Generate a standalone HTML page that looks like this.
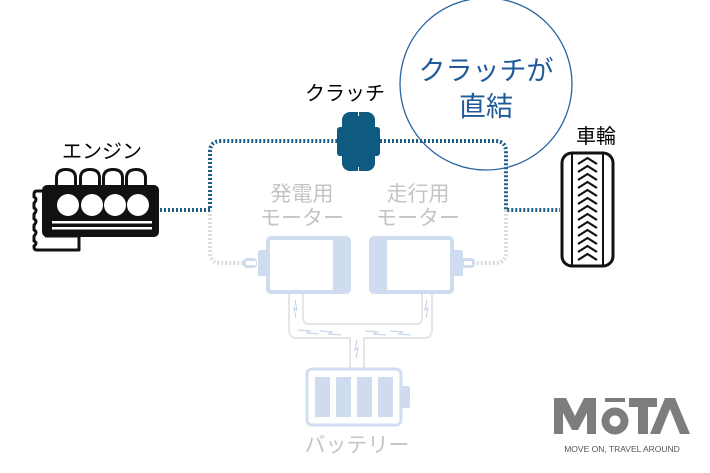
<!DOCTYPE html>
<html><head><meta charset="utf-8"><style>
html,body{margin:0;padding:0;background:#fff;}
svg{display:block;}
text{font-family:"Liberation Sans","Noto Sans CJK JP",sans-serif;}
</style></head><body>
<svg width="710" height="473" viewBox="0 0 710 473" xmlns="http://www.w3.org/2000/svg">
<path d="M210 210 V252 Q210 263 221 263 H243" fill="none" stroke="#dcdcdc" stroke-width="4" stroke-dasharray="2 2"/>
<path d="M506 210 V252 Q506 263 495 263 H476" fill="none" stroke="#dcdcdc" stroke-width="4" stroke-dasharray="2 2"/>
<g fill="none" stroke="#1d5f86" stroke-width="4" stroke-dasharray="2 2">
<path d="M160 210 H210 V152 Q210 141 221 141 H338"/>
<path d="M380 141 H495 Q506 141 506 152 V210 H560"/>
</g>
<circle cx="486" cy="84" r="86" fill="none" stroke="#2a64a0" stroke-width="1.3"/>
<text x="486" y="80" font-size="27" fill="#1f5a9a" text-anchor="middle">クラッチが</text>
<text x="486" y="116" font-size="27" fill="#1f5a9a" text-anchor="middle">直結</text>
<text x="345" y="100" font-size="20" fill="#000" text-anchor="middle">クラッチ</text>
<rect x="337" y="127" width="43" height="29" rx="3" fill="#0f5a80"/>
<rect x="342" y="112" width="33" height="59" rx="8" fill="#0f5a80"/>
<line x1="358.5" y1="112" x2="358.5" y2="116" stroke="#fff" stroke-width="1"/>
<line x1="358.5" y1="167" x2="358.5" y2="171" stroke="#fff" stroke-width="1"/>
<!-- engine -->
<text x="102" y="158" font-size="20" fill="#000" text-anchor="middle">エンジン</text>
<path d="M46 191 H37 Q34 191 34 194 V197 Q38 199 34 203 V208 Q38 210 34 214 V219 Q38 221 34 225 V230 Q38 232 34 236 V241 Q38 243 34 246 V247 Q34 250 37 250 H79 V236 H46 Z" fill="#fff" stroke="#111" stroke-width="3" stroke-linejoin="round"/>
<g fill="#111">
<rect x="42" y="185" width="117" height="52" rx="5"/>
<path d="M55 186 V178 Q55 168 66 168 Q77 168 77 178 V186 Z"/>
<path d="M79 186 V178 Q79 168 90 168 Q101 168 101 178 V186 Z"/>
<path d="M102 186 V178 Q102 168 113 168 Q124 168 124 178 V186 Z"/>
<path d="M125 186 V178 Q125 168 136 168 Q147 168 147 178 V186 Z"/>
</g>
<g fill="#fff">
<path d="M58 185 V178 Q58 171 66 171 Q74 171 74 178 V185 Z"/>
<path d="M82 185 V178 Q82 171 90 171 Q98 171 98 178 V185 Z"/>
<path d="M105 185 V178 Q105 171 113 171 Q121 171 121 178 V185 Z"/>
<path d="M128 185 V178 Q128 171 136 171 Q144 171 144 178 V185 Z"/>
<circle cx="68" cy="205" r="11"/><circle cx="92" cy="205" r="11"/><circle cx="115" cy="205" r="11"/><circle cx="138" cy="205" r="11"/>
<rect x="52" y="221" width="100" height="2.5"/><rect x="52" y="227" width="100" height="2.5"/>
</g>
<!-- wheel -->
<text x="596" y="143" font-size="20" fill="#000" text-anchor="middle">車輪</text>
<rect x="562" y="153" width="51" height="113" rx="10" fill="#fff" stroke="#111" stroke-width="3"/>
<line x1="572" y1="154" x2="572" y2="265" stroke="#111" stroke-width="2"/>
<line x1="603" y1="154" x2="603" y2="265" stroke="#111" stroke-width="2"/>
<g fill="none" stroke="#111" stroke-width="2.2">
<path d="M578 164 L587.5 158 L597 164"/><path d="M578 172 L587.5 166 L597 172"/><path d="M578 180 L587.5 174 L597 180"/><path d="M578 188 L587.5 182 L597 188"/><path d="M578 196 L587.5 190 L597 196"/><path d="M578 204 L587.5 198 L597 204"/><path d="M578 212 L587.5 206 L597 212"/><path d="M578 220 L587.5 214 L597 220"/><path d="M578 228 L587.5 222 L597 228"/><path d="M578 236 L587.5 230 L597 236"/><path d="M578 244 L587.5 238 L597 244"/><path d="M578 252 L587.5 246 L597 252"/><path d="M578 260 L587.5 254 L597 260"/>
</g>
<g fill="#c4c4c4" font-size="21" text-anchor="middle">
<text x="302" y="201">発電用</text><text x="302" y="225">モーター</text>
<text x="418" y="201">走行用</text><text x="418" y="225">モーター</text>
</g>
<g fill="#cfdcef">
<rect x="243" y="258" width="14" height="10" rx="4"/>
<rect x="258" y="250" width="10" height="26" rx="2"/>
<rect x="266" y="236" width="85" height="58" rx="5"/>
<rect x="461" y="258" width="14" height="10" rx="4"/>
<rect x="453" y="250" width="10" height="26" rx="2"/>
<rect x="369" y="236" width="85" height="58" rx="5"/>
</g>
<rect x="270" y="240" width="63" height="50" rx="2" fill="#fff"/>
<rect x="387" y="240" width="63" height="50" rx="2" fill="#fff"/>
<rect x="246" y="261" width="10" height="4" fill="#fff"/>
<rect x="464" y="261" width="8" height="4" fill="#fff"/>
<g fill="none" stroke="#e6e6e6" stroke-width="2">
<path d="M289 294 V330 Q289 338 297 338 H350 V369"/>
<path d="M303 294 V318 Q303 324 309 324 H416 Q422 324 422 318 V294"/>
<path d="M432 294 V330 Q432 338 424 338 H364 V369"/>
</g>
<g fill="none" stroke="#c7d6ee" stroke-width="1.2">
<path d="M295 300 l2 10 -3 -2 2 10"/><path d="M298 330 l12 1 -3 2 12 1"/><path d="M320 331 l12 1 -3 2 12 1"/><path d="M365 331 l12 1 -3 2 12 1"/><path d="M390 331 l12 1 -3 2 12 1"/><path d="M427 300 l-2 10 3 -2 -2 10"/><path d="M357 340 l-2 10 3 -2 -2 10"/>
</g>
<rect x="307" y="369" width="94" height="56" rx="5" fill="none" stroke="#d2deef" stroke-width="3"/>
<rect x="401" y="386" width="9" height="22" rx="2" fill="#cfdcef"/>
<g fill="#cfdcef">
<rect x="315" y="377" width="15" height="40"/><rect x="336" y="377" width="15" height="40"/><rect x="357" y="377" width="15" height="40"/><rect x="378" y="377" width="15" height="40"/>
</g>
<text x="357" y="452" font-size="21" fill="#c4c4c4" text-anchor="middle">バッテリー</text>
<g fill="#7d7d7d">
<path d="M554 434 V398 H566 L575 416 L584 398 H596 V434 H587 V413 L578 430 H572 L563 413 V434 Z"/>
<rect x="605" y="398" width="20" height="4"/>
<circle cx="615" cy="421" r="13.5"/>
<rect x="629" y="398" width="28" height="9"/><rect x="638" y="398" width="10" height="36"/>
<path d="M650 434 L665 398 H675 L690 434 H680 L670 409 L660 434 Z"/>
</g>
<circle cx="615" cy="421" r="5.5" fill="#fff"/>
<text x="622" y="452" font-size="8.5" fill="#555" text-anchor="middle">MOVE ON, TRAVEL AROUND</text>
</svg>
</body></html>
